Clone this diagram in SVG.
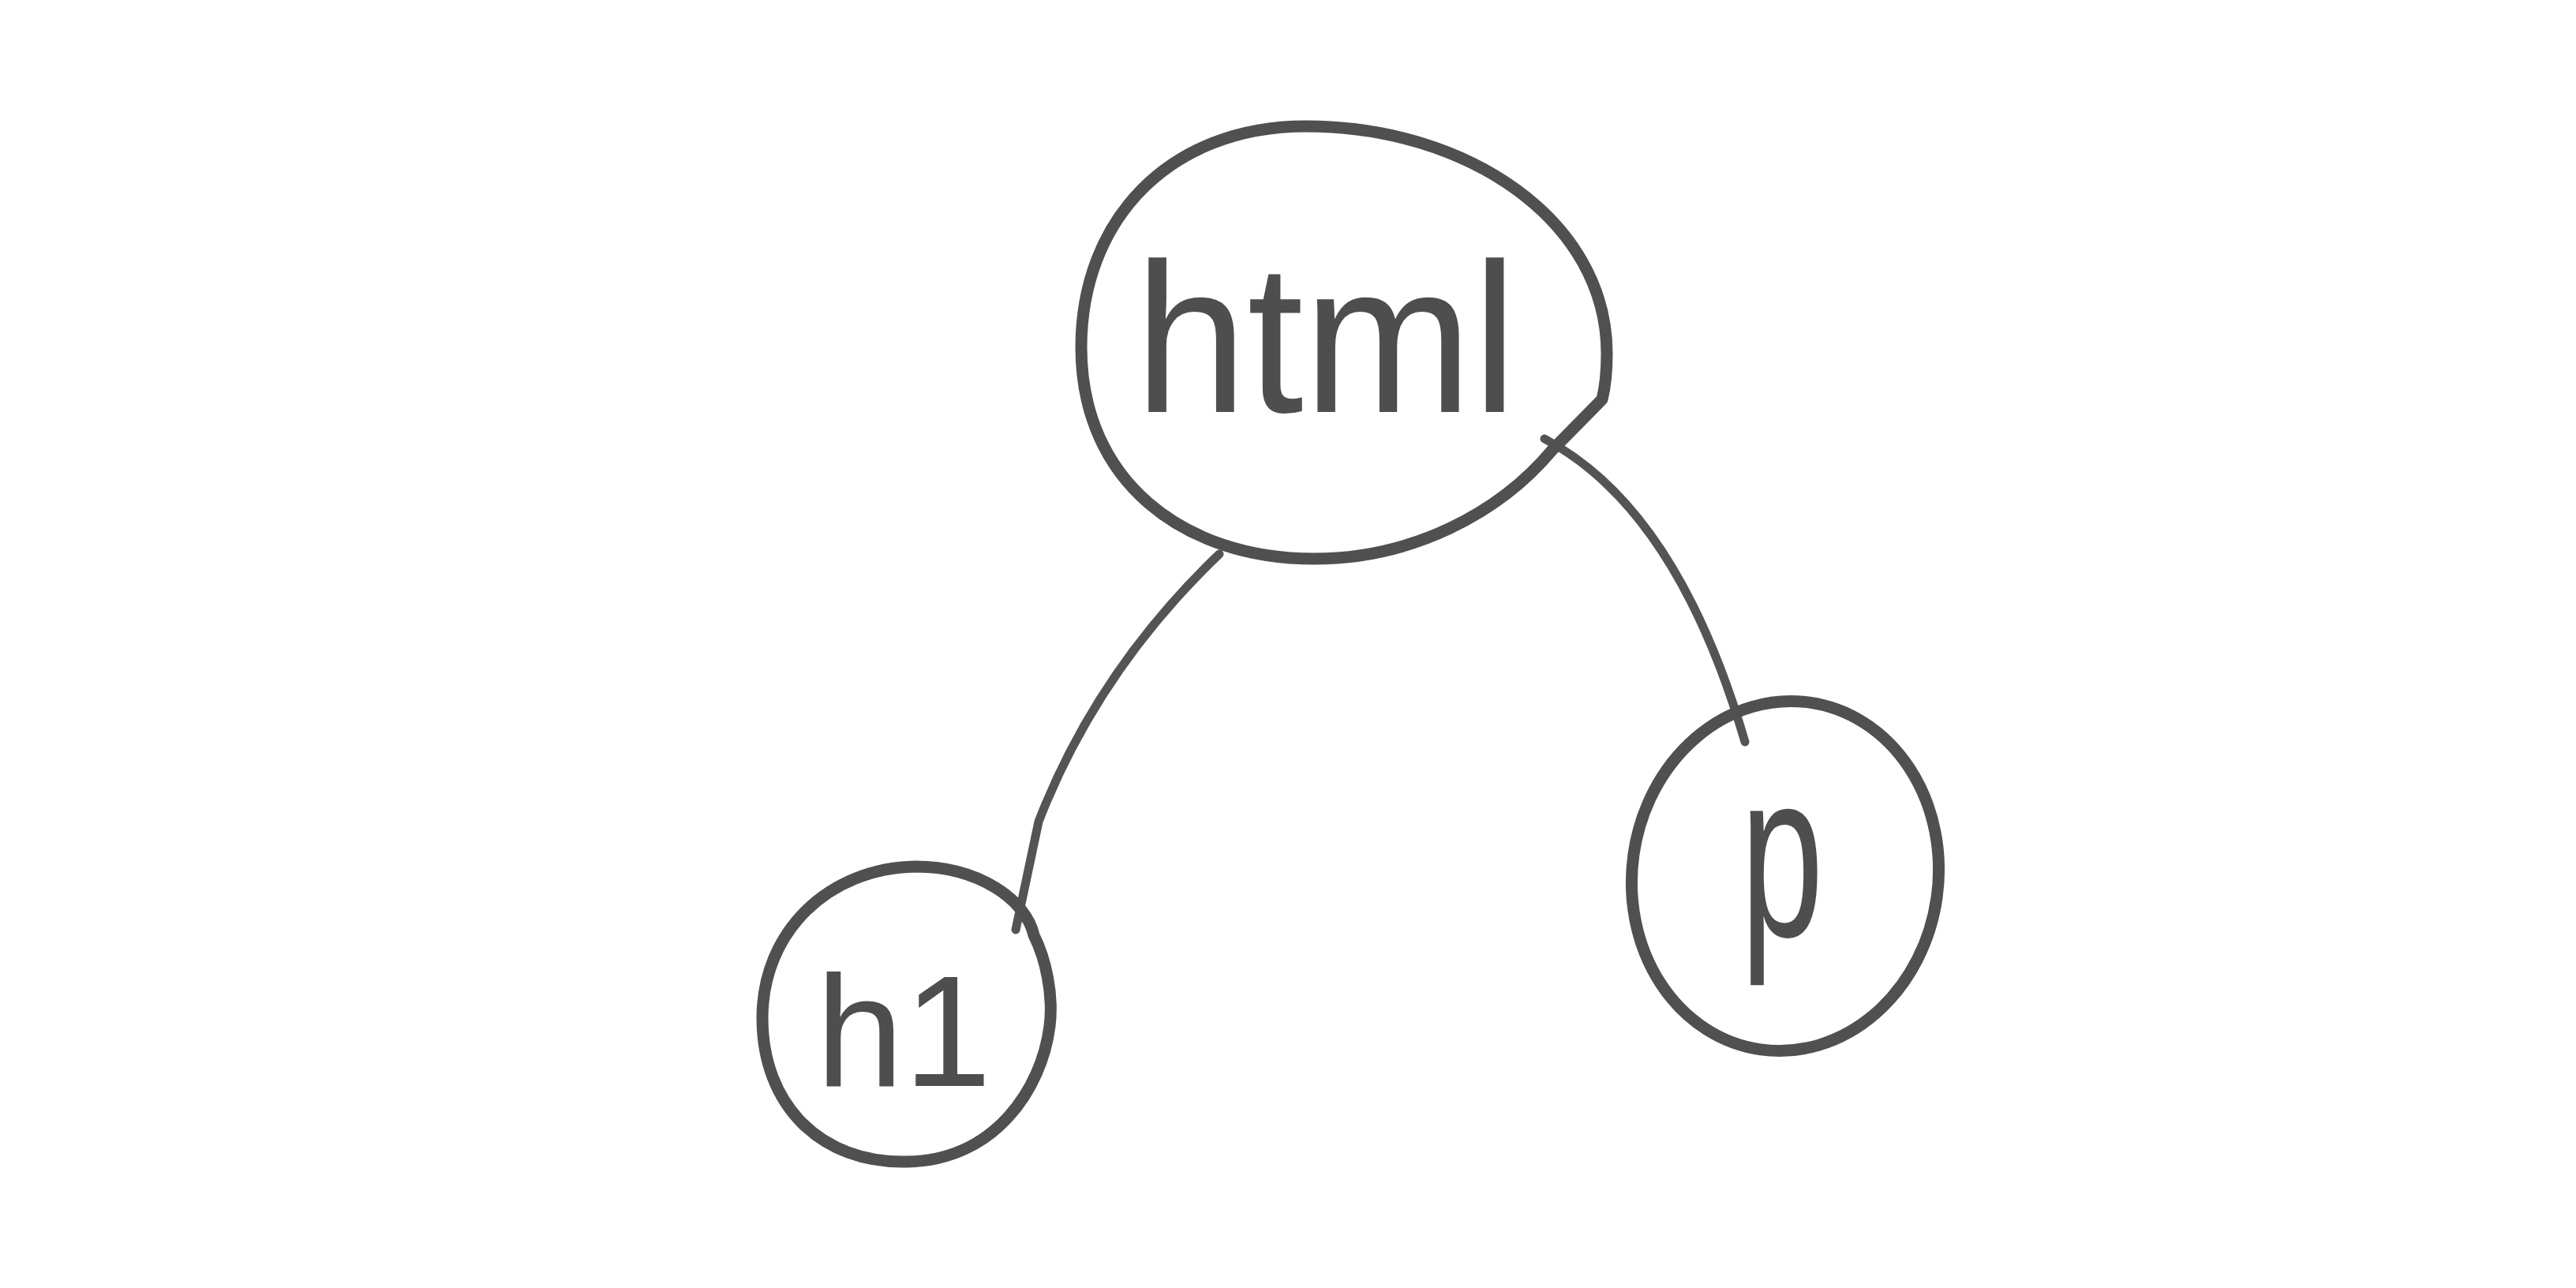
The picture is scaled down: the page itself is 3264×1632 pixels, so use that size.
<svg xmlns="http://www.w3.org/2000/svg" width="3264" height="1632" viewBox="0 0 3264 1632">
<style>
.node{fill:none;stroke:#505050;stroke-width:15;stroke-linecap:round;stroke-linejoin:round}
.edge{fill:none;stroke:#545454;stroke-width:11;stroke-linecap:round}
.lbl{font-family:"Liberation Sans","DejaVu Sans",sans-serif;fill:#4e4e4e;text-anchor:middle}
</style>
<rect width="3264" height="1632" fill="#ffffff"/>
<g id="connectors">
<path class="edge" d="M1545,702 Q1390,850 1316,1041 L1287,1178"/>
<path class="edge" d="M1957,556 Q2125,645 2211,940" stroke-width="12"/>
</g>
<g id="node-html">
<path class="node" d="M1655,160 C1860,160 2036,280 2036,448 C2036,470 2034,490 2030,506 L1967,570 C1900,650 1790,708 1665,708 C1500,708 1370,610 1370,440 C1370,280 1480,160 1655,160 Z"/>
<text class="lbl" x="1680" y="522" font-size="270" textLength="485" lengthAdjust="spacingAndGlyphs">html</text>
</g>
<g id="node-h1">
<path class="node" d="M1160,1098 C1240,1098 1300,1140 1310,1185 C1325,1215 1335,1260 1330,1300 C1320,1380 1260,1470 1150,1472 C1040,1475 966,1400 966,1290 C966,1180 1050,1100 1160,1098 Z"/>
<text class="lbl" x="1145" y="1376" font-size="200">h1</text>
</g>
<g id="node-p">
<ellipse class="node" cx="2262" cy="1110" rx="194" ry="222" transform="rotate(8 2262 1110)"/>
<text class="lbl" x="2258" y="1186" font-size="300" textLength="105" lengthAdjust="spacingAndGlyphs">p</text>
</g>
</svg>
